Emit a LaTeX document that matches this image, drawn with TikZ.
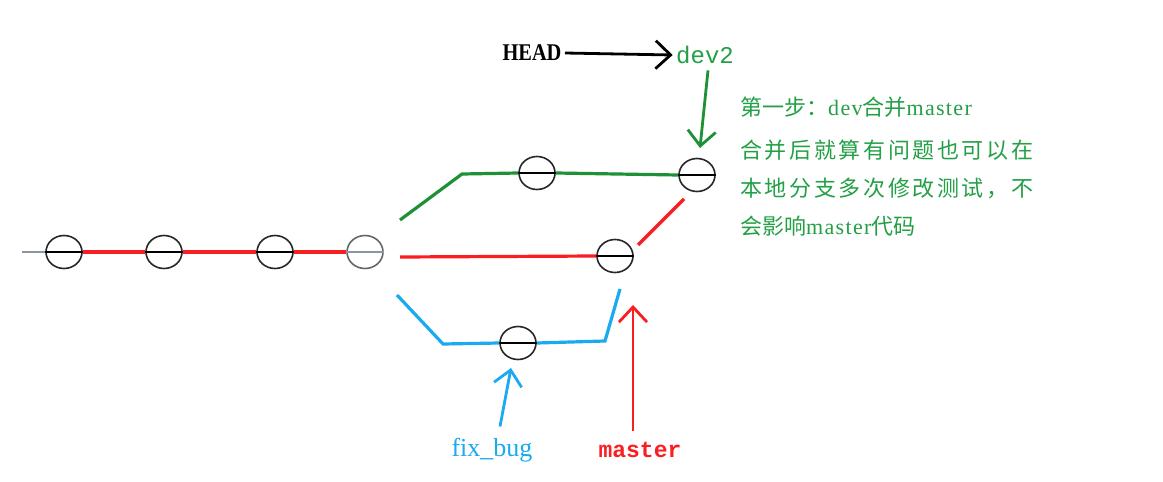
\documentclass[tikz,border=0pt]{standalone}
\usepackage{fontspec}
\setmainfont{Liberation Serif}
\setmonofont{Liberation Mono}
\newfontfamily\cjk{Noto Sans CJK SC}
\newfontfamily\cjkw[LetterSpace=12]{Noto Sans CJK SC}
\newfontfamily\latw[LetterSpace=6]{Liberation Serif}
\usetikzlibrary{shapes.geometric,arrows.meta}
\definecolor{lgreen}{RGB}{30,145,55}
\definecolor{tgreen}{RGB}{35,160,70}
\definecolor{lred}{RGB}{250,30,35}
\definecolor{lblue}{RGB}{25,170,240}
\definecolor{lgray}{RGB}{140,150,160}
\tikzset{
  commit/.style={ellipse,draw=black!85,line width=1.6pt,minimum width=36pt,minimum height=33pt,inner sep=0pt},
  mid/.style={black,line width=1.5pt},
  gline/.style={lgreen,line width=3.2pt},
  rline/.style={lred,line width=3.2pt},
  bline/.style={lblue,line width=3.2pt},
  barb/.style={-{Straight Barb[length=15pt,width=28pt]},line width=2.8pt},
  gtext/.style={tgreen,anchor=west,inner sep=0pt}
}
\begin{document}
\begin{tikzpicture}[x=1pt,y=-1pt]
\useasboundingbox[fill=white] (0,0) rectangle (1163,482);
% main line commits
\node[commit] (c1) at (64,252) {};
\node[commit] (c2) at (164,252) {};
\node[commit] (c3) at (275,252) {};
\node[commit,draw=black!60] (c4) at (365,252) {};
\coordinate (start) at (22,252);
\draw[lgray,line width=1.5pt] (start) -- (c1.west);
\draw[mid] (c1.west) -- (c1.east);
\draw[mid] (c2.west) -- (c2.east);
\draw[mid] (c3.west) -- (c3.east);
\draw[lgray,line width=1.5pt] (c4.west) -- (c4.east);
\draw[rline] (c1.east) -- (c2.west);
\draw[rline] (c2.east) -- (c3.west);
\draw[rline] (c3.east) -- (c4.west);
% green branch
\node[commit] (g1) at (537,173) {};
\node[commit] (g2) at (697,175) {};
\draw[mid] (g1.west) -- (g1.east);
\draw[mid] (g2.west) -- (g2.east);
\coordinate (g0) at (400,220);
\coordinate (gk) at (462,174);
\draw[gline] (g0) -- (gk) -- (g1.west);
\draw[gline] (g1.east) -- (g2.west);
% red branch
\node[commit] (m) at (615,256) {};
\draw[mid] (m.west) -- (m.east);
\coordinate (r0) at (400,257);
\draw[rline] (r0) -- (m.west);
\coordinate (r1) at (638,245);
\coordinate (r2) at (684,199);
\draw[rline] (r1) -- (r2);
% blue branch
\node[commit] (b) at (518,343) {};
\draw[mid] (b.west) -- (b.east);
\coordinate (b0) at (397,295);
\coordinate (bk) at (443,344);
\draw[bline] (b0) -- (bk) -- (b.west);
\coordinate (bk2) at (605,341);
\coordinate (b2) at (620,289);
\draw[bline] (b.east) -- (bk2) -- (b2);
% labels
\node (head) at (532,53) {\fontsize{24}{24}\selectfont\bfseries\scalebox{0.85}[1]{HEAD}};
\node[text=tgreen] (dev2) at (705,55) {\fontsize{24}{24}\selectfont\ttfamily dev2};
\draw[barb,black] (head.east) -- (dev2.west);
\coordinate (gtip) at (700,148);
\draw[barb,lgreen] ([xshift=3pt,yshift=-3pt]dev2.south) -- (gtip);
\node[text=lred] (master) at (640,450) {\fontsize{23}{23}\selectfont\ttfamily\bfseries master};
\coordinate (mtip) at (633,305);
\draw[barb,lred] ([xshift=-7pt,yshift=8pt]master.north) -- (mtip);
\node[text=lblue] (fixbug) at (492,450) {\fontsize{26}{26}\selectfont fix\_bug};
\coordinate (btip) at (511,368);
\draw[barb,lblue] ([xshift=8pt,yshift=8pt]fixbug.north) -- (btip);
% green note
\node[gtext] (t1) at (740,107) {\fontsize{22}{22}\selectfont{\cjk 第一步：}{\latw dev}{\cjk 合并}{\latw master}};
\node[gtext] (t2) at (740,150) {\fontsize{22}{22}\selectfont\cjkw 合并后就算有问题也可以在};
\node[gtext] (t3) at (740,188) {\fontsize{22}{22}\selectfont\cjkw 本地分支多次修改测试，不};
\node[gtext] (t4) at (740,226) {\fontsize{22}{22}\selectfont{\cjk 会影响}{\latw master}{\cjk 代码}};
\end{tikzpicture}
\end{document}
